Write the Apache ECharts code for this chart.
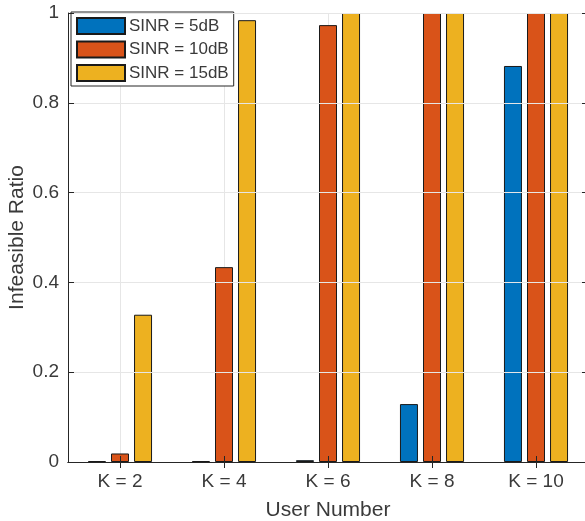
<!DOCTYPE html>
<html>
<head>
<meta charset="utf-8">
<script src="https://cdn.jsdelivr.net/npm/echarts@6/dist/echarts.min.js"></script>
<style>html,body{margin:0;padding:0;background:#fff}#c{width:585px;height:521px}</style>
</head>
<body>
<div id="c"></div>
<script>
var categories = ['K = 2', 'K = 4', 'K = 6', 'K = 8', 'K = 10'];
var sinr5 = [0.002, 0.002, 0.004, 0.129, 0.882];
var sinr10 = [0.019, 0.434, 0.973, 1, 1];
var sinr15 = [0.328, 0.984, 1, 1, 1];
var seriesNames = ['SINR = 5dB', 'SINR = 10dB', 'SINR = 15dB'];
var yTicks = [0, 0.2, 0.4, 0.6, 0.8, 1];

var axisColor = '#262626';
var textColor = '#3a3a3a';
var gridColor = '#e6e6e6';
var font = 'Liberation Sans, Arial, sans-serif';

// half-band categories used only to place vertical grid lines at category centres
var halfBands = [];
for (var i = 0; i <= categories.length * 2; i++) halfBands.push(String(i));

var chart = echarts.init(document.getElementById('c'), null, {renderer: 'canvas'});
function barSeries(name, data, color) {
  return {
    name: name, type: 'bar', data: data, xAxisIndex: 0, yAxisIndex: 0,
    barWidth: 18, barGap: '28%',
    itemStyle: {color: color, borderColor: '#1a1a1a', borderWidth: 1},
    emphasis: {disabled: true}
  };
}
chart.setOption({
  animation: false,
  textStyle: {fontFamily: font},
  grid: {left: 68, right: -3, top: 13, bottom: 59, containLabel: false, outerBoundsMode: 'none'},
  legend: {
    orient: 'vertical', left: 71, top: 12,
    padding: [5, 5, 4, 5],
    backgroundColor: '#fff', borderColor: axisColor, borderWidth: 1,
    itemWidth: 48, itemHeight: 16, itemGap: 5.5,
    icon: 'rect',
    textStyle: {fontSize: 17, color: textColor, fontFamily: font, padding: [0, 0, 0, -1]},
    data: seriesNames
  },
  xAxis: [
    {
      type: 'category', data: categories, position: 'bottom', z: 5,
      name: 'User Number', nameLocation: 'middle', nameGap: 38, nameMoveOverlap: false,
      nameTextStyle: {fontSize: 21, color: textColor, fontFamily: font},
      axisLine: {show: true, lineStyle: {color: axisColor, width: 1}},
      axisTick: {show: true, inside: true, alignWithLabel: true, length: 6, lineStyle: {color: axisColor}},
      axisLabel: {fontSize: 19, color: textColor, margin: 10, fontFamily: font},
      splitLine: {show: false}
    },
    {
      type: 'category', data: categories, position: 'top', z: 5,
      axisLine: {show: true, lineStyle: {color: axisColor, width: 1}},
      axisTick: {show: true, inside: true, alignWithLabel: true, length: 6, lineStyle: {color: axisColor}},
      axisLabel: {show: false}, splitLine: {show: false}
    },
    {
      type: 'category', data: halfBands, boundaryGap: false, position: 'bottom', z: 0,
      axisLine: {show: false}, axisTick: {show: false}, axisLabel: {show: false},
      splitLine: {show: true, interval: function (idx) { return idx % 2 === 1; }, lineStyle: {color: gridColor, width: 1}}
    }
  ],
  yAxis: [
    {
      type: 'value', min: 0, max: 1, interval: 0.2, position: 'left', z: 5,
      name: 'Infeasible Ratio', nameLocation: 'middle', nameGap: 40, nameMoveOverlap: false,
      nameTextStyle: {fontSize: 21, color: textColor, fontFamily: font},
      axisLine: {show: true, lineStyle: {color: axisColor, width: 1}},
      axisTick: {show: true, inside: true, length: 6, lineStyle: {color: axisColor}},
      axisLabel: {fontSize: 19, color: textColor, margin: 9, fontFamily: font,
        formatter: function (v) { return String(yTicks[Math.round(v / 0.2)]); }},
      splitLine: {show: true, lineStyle: {color: gridColor, width: 1}}
    },
    {
      type: 'value', min: 0, max: 1, interval: 0.2, position: 'right', z: 5,
      axisLine: {show: true, lineStyle: {color: axisColor, width: 1}},
      axisTick: {show: true, inside: true, length: 6, lineStyle: {color: axisColor}},
      axisLabel: {show: false}, splitLine: {show: false}
    }
  ],
  series: [
    barSeries(seriesNames[0], sinr5, '#0072BD'),
    barSeries(seriesNames[1], sinr10, '#D95319'),
    barSeries(seriesNames[2], sinr15, '#EDB120')
  ]
});
</script>
</body>
</html>
